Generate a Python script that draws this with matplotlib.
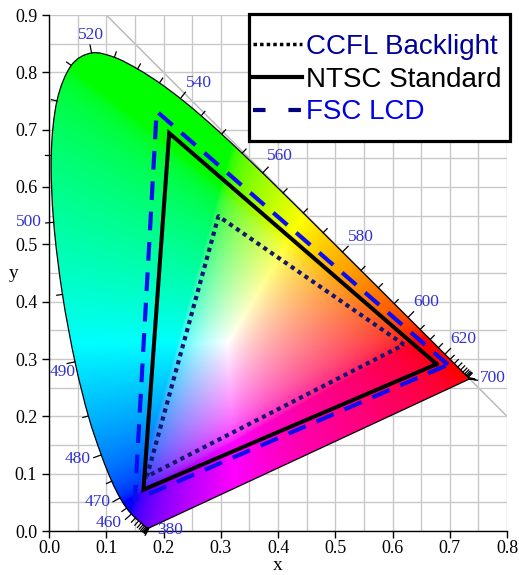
import numpy as np
import matplotlib
matplotlib.use("Agg")
import matplotlib.pyplot as plt
from matplotlib.patches import PathPatch, Rectangle
from matplotlib.path import Path
from matplotlib.lines import Line2D

plt.rcParams["font.family"] = "serif"
plt.rcParams["font.serif"] = ["Liberation Serif", "DejaVu Serif"]

# CIE 1931 spectral locus, 5 nm steps
wavelengths = np.arange(380, 705, 5)
locus_x = [0.1741, 0.1740, 0.1738, 0.1736, 0.1733, 0.1730, 0.1726, 0.1721, 0.1714, 0.1703,
           0.1689, 0.1669, 0.1644, 0.1611, 0.1566, 0.1510, 0.1440, 0.1355, 0.1241, 0.1096,
           0.0913, 0.0687, 0.0454, 0.0235, 0.0082, 0.0039, 0.0139, 0.0389, 0.0743, 0.1142,
           0.1547, 0.1929, 0.2296, 0.2658, 0.3016, 0.3373, 0.3731, 0.4087, 0.4441, 0.4788,
           0.5125, 0.5448, 0.5752, 0.6029, 0.6270, 0.6482, 0.6658, 0.6801, 0.6915, 0.7006,
           0.7079, 0.7140, 0.7190, 0.7230, 0.7260, 0.7283, 0.7300, 0.7311, 0.7320, 0.7327,
           0.7334, 0.7340, 0.7344, 0.7346, 0.7347]
locus_y = [0.0050, 0.0050, 0.0049, 0.0049, 0.0048, 0.0048, 0.0048, 0.0048, 0.0051, 0.0058,
           0.0069, 0.0086, 0.0109, 0.0138, 0.0177, 0.0227, 0.0297, 0.0399, 0.0578, 0.0868,
           0.1327, 0.2007, 0.2950, 0.4127, 0.5384, 0.6548, 0.7502, 0.8120, 0.8338, 0.8262,
           0.8059, 0.7816, 0.7543, 0.7243, 0.6923, 0.6589, 0.6245, 0.5896, 0.5547, 0.5202,
           0.4866, 0.4544, 0.4242, 0.3965, 0.3725, 0.3514, 0.3340, 0.3197, 0.3083, 0.2993,
           0.2920, 0.2859, 0.2809, 0.2770, 0.2740, 0.2717, 0.2700, 0.2689, 0.2680, 0.2673,
           0.2666, 0.2660, 0.2656, 0.2654, 0.2653]

labeled_nm = [380, 460, 470, 480, 490, 500, 520, 540, 560, 580, 600, 620, 700]

# gamut triangles (R, G, B)
ccfl_x = [0.620, 0.296, 0.171]
ccfl_y = [0.325, 0.549, 0.095]
ntsc_x = [0.677, 0.210, 0.165]
ntsc_y = [0.291, 0.694, 0.072]
fsc_x = [0.697, 0.188, 0.150]
fsc_y = [0.290, 0.732, 0.054]

series_labels = ["CCFL Backlight", "NTSC Standard", "FSC LCD"]

# label offsets from the locus point, in pixels (right, up)
label_offsets = {380: (21, -2), 460: (-23, -9), 470: (-22.5, -4), 480: (-24, -4),
                 490: (-12.5, -10), 500: (-25, 0), 520: (-1, 18), 540: (18, 16),
                 560: (17.4, 17), 580: (18.6, 15), 600: (18.5, 15.6), 620: (18.6, 15.3),
                 700: (23, 1)}

fig = plt.figure(figsize=(5.19, 5.75), dpi=100)
ax = fig.add_axes([49 / 519, 44 / 575, 458 / 519, 516 / 575])
ax.set_xlim(0, 0.8)
ax.set_ylim(0, 0.9)

# colour fill
gx, gy = np.meshgrid(np.linspace(0, 0.8, 480), np.linspace(0, 0.9, 540))
yy = np.maximum(gy, 1e-4)
X = gx / yy
Z = (1 - gx - gy) / yy
M = np.array([[3.2406, -1.5372, -0.4986],
              [-0.9689, 1.8758, 0.0415],
              [0.0557, -0.2040, 1.0570]])
rgb = np.stack([M[i, 0] * X + M[i, 1] + M[i, 2] * Z for i in range(3)], axis=-1)
rgb = np.clip(rgb, 0, None)
rgb = rgb / np.maximum(rgb.max(axis=-1, keepdims=True), 1e-9)
rgb = np.where(rgb <= 0.0031308, 12.92 * rgb, 1.055 * rgb ** (1 / 2.4) - 0.055)
rgb = np.clip(rgb, 0, 1)

lx = np.array(locus_x)
ly = np.array(locus_y)

# smooth outline: Catmull-Rom segments drawn as cubic Bezier curves
pts = np.column_stack([lx, ly])
ext = np.vstack([pts[:1], pts, pts[-1:]])
verts = [pts[0]]
codes = [Path.MOVETO]
for i in range(len(pts) - 1):
    p0, p1, p2, p3 = ext[i], ext[i + 1], ext[i + 2], ext[i + 3]
    verts += [p1 + (p2 - p0) / 6, p2 - (p3 - p1) / 6, p2]
    codes += [Path.CURVE4] * 3
verts += [pts[0], pts[0]]
codes += [Path.LINETO, Path.CLOSEPOLY]
locus_path = Path(np.array(verts), codes)

ax.plot([0.1, 0.8], [0.9, 0.2], color="#b4b4b4", lw=1.0, zorder=0.5)
im = ax.imshow(rgb, extent=(0, 0.8, 0, 0.9), origin="lower", aspect="auto",
               interpolation="bilinear", zorder=1)
outline = PathPatch(locus_path, transform=ax.transData, facecolor="none",
                    edgecolor="black", lw=0.9, zorder=2)
ax.add_patch(outline)
im.set_clip_path(outline)

# ticks along the locus
gxl = np.gradient(lx)
gyl = np.gradient(ly)
wx, wy = 0.333, 0.333
for i, nm in enumerate(wavelengths):
    tx, ty = gxl[i], gyl[i]
    if np.hypot(tx, ty) < 1e-3:
        nx, ny = lx[i] - wx, ly[i] - wy
    else:
        nx, ny = ty, -tx
        if nx * (lx[i] - wx) + ny * (ly[i] - wy) < 0:
            nx, ny = -nx, -ny
    n = np.hypot(nx, ny)
    nx, ny = nx / n, ny / n
    L = 0.014 if nm in labeled_nm else 0.010
    ax.plot([lx[i], lx[i] + nx * L], [ly[i], ly[i] + ny * L], color="black",
            lw=0.9, zorder=2, clip_on=False)

for nm in labeled_nm:
    i = list(wavelengths).index(nm)
    dx, dy = label_offsets[nm]
    ax.annotate(str(nm), (lx[i], ly[i]), xytext=(dx * 0.72, dy * 0.72),
                textcoords="offset points", ha="center", va="center",
                fontsize=12.5, color="#3232d2", zorder=3, annotation_clip=False)

# gamut triangles
ax.plot(ccfl_x + ccfl_x[:1], ccfl_y + ccfl_y[:1], color="#161670", lw=3,
        linestyle=(0, (1, 1)), dash_capstyle="butt", zorder=4)
ax.plot(ntsc_x + ntsc_x[:1], ntsc_y + ntsc_y[:1], color="black", lw=2.9,
        solid_joinstyle="miter", zorder=4)
ax.plot(fsc_x + fsc_x[:1], fsc_y + fsc_y[:1], color="#0c0cf0", lw=3,
        linestyle=(0, (4.5, 2.8)), dash_capstyle="butt", zorder=4)

# axes styling
ax.set_xticks(np.arange(0, 0.81, 0.1))
ax.set_yticks(np.arange(0, 0.91, 0.1))
ax.set_xticks(np.arange(0, 0.81, 0.05), minor=True)
ax.set_yticks(np.arange(0, 0.91, 0.05), minor=True)
ax.xaxis.set_major_formatter(matplotlib.ticker.FormatStrFormatter("%.1f"))
ax.yaxis.set_major_formatter(matplotlib.ticker.FormatStrFormatter("%.1f"))
ax.tick_params(which="major", direction="out", length=5, width=1, labelsize=13)
ax.tick_params(axis="x", which="major", pad=1.5)
ax.tick_params(which="minor", length=0)
ax.grid(which="both", color="#c8c8c8", lw=1.0)
ax.set_axisbelow(True)
for s in ["top", "right"]:
    ax.spines[s].set_visible(False)
ax.spines["left"].set_linewidth(1.0)
ax.spines["bottom"].set_linewidth(1.0)
ax.set_xlabel("x", fontsize=14, labelpad=0)
ax.set_ylabel("y", fontsize=14, rotation=0, labelpad=1, va="center")

# legend
handles = [Line2D([], [], color="black", lw=2.5, linestyle=(0, (1, 0.9))),
           Line2D([], [], color="black", lw=3),
           Line2D([], [], color="#000080", lw=3, linestyle=(0, (3, 5.5)))]
frame = Rectangle((200 / 458, 390 / 516), 261 / 458, 127 / 516, transform=ax.transAxes,
                  facecolor="white", edgecolor="black", lw=2.3, clip_on=False, zorder=9)
ax.add_patch(frame)
leg = ax.legend(handles, series_labels, loc="upper left", bbox_to_anchor=(204 / 458, 497 / 516),
                frameon=False, borderpad=0, borderaxespad=0, handlelength=1.75,
                handletextpad=0.15, labelspacing=0.24,
                prop={"family": "Liberation Sans", "size": 20})
leg.set_zorder(10)
for t, c in zip(leg.get_texts(), ["#00009a", "black", "#0000e6"]):
    t.set_color(c)

fig.savefig("out.png", dpi=100)
